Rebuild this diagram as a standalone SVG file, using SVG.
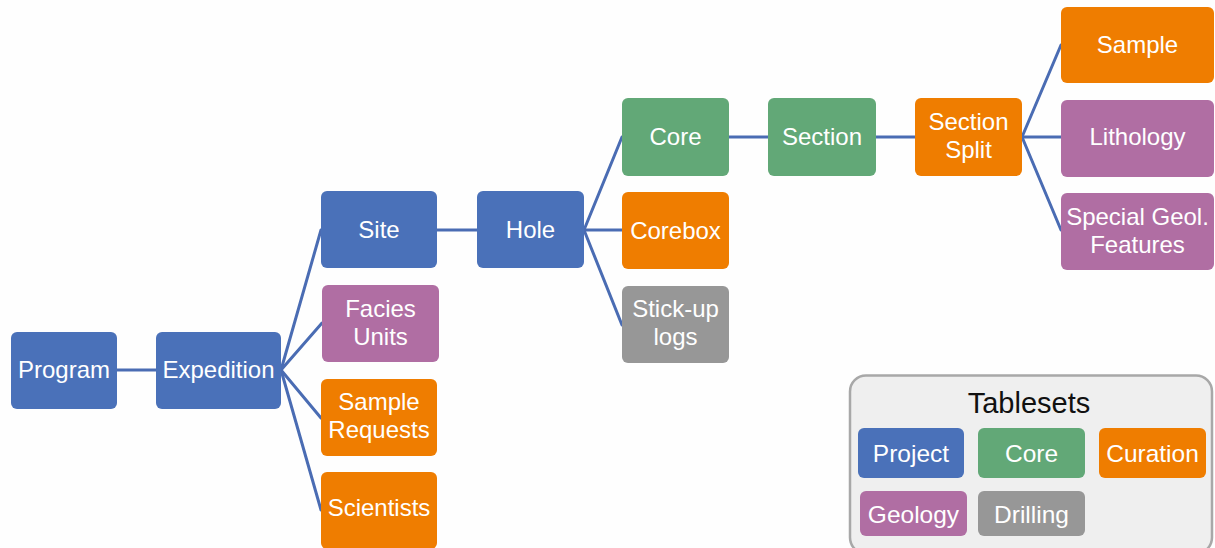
<svg xmlns="http://www.w3.org/2000/svg" width="1215" height="548" viewBox="0 0 1215 548">
<style>
.n{stroke:none}
.b{fill:#4a71b9}.g{fill:#62a877}.o{fill:#ef7d00}.p{fill:#b06ea3}.y{fill:#979797}
text{font-family:"Liberation Sans",Arial,sans-serif;font-size:24px;fill:#fff;text-anchor:middle}
.l text{font-size:24.5px}
.c line{stroke:#4a6cb3;stroke-width:3;stroke-linecap:round}
</style>
<rect width="1215" height="548" fill="#fefefe"/>
<g class="c" id="connectors">
<line x1="117" y1="370" x2="156" y2="370"/>
<line x1="281" y1="370" x2="321" y2="230"/>
<line x1="281" y1="370" x2="322" y2="323"/>
<line x1="281" y1="370" x2="321" y2="418"/>
<line x1="281" y1="370" x2="321" y2="510"/>
<line x1="437" y1="230" x2="477" y2="230"/>
<line x1="584" y1="230" x2="622" y2="137"/>
<line x1="584" y1="230" x2="622" y2="230"/>
<line x1="584" y1="230" x2="622" y2="325"/>
<line x1="729" y1="137" x2="768" y2="137"/>
<line x1="876" y1="137" x2="915" y2="137"/>
<line x1="1022" y1="137" x2="1061" y2="45"/>
<line x1="1022" y1="137" x2="1061" y2="137"/>
<line x1="1022" y1="137" x2="1061" y2="230"/>
</g>
<g id="program"><rect class="b" x="11" y="332" width="106" height="77" rx="6"/><text x="64" y="378">Program</text></g>
<g id="expedition"><rect class="b" x="156" y="332" width="125" height="77" rx="6"/><text x="218.5" y="378">Expedition</text></g>
<g id="site"><rect class="b" x="321" y="191" width="116" height="77" rx="6"/><text x="379" y="238">Site</text></g>
<g id="facies"><rect class="p" x="322" y="285" width="117" height="77" rx="6"/><text x="380.5" y="317">Facies</text><text x="380.5" y="345">Units</text></g>
<g id="samplerequests"><rect class="o" x="321" y="379" width="116" height="77" rx="6"/><text x="379" y="410">Sample</text><text x="379" y="438">Requests</text></g>
<g id="scientists"><rect class="o" x="321" y="472" width="116" height="77" rx="6"/><text x="379" y="516">Scientists</text></g>
<g id="hole"><rect class="b" x="477" y="191" width="107" height="77" rx="6"/><text x="530.5" y="238">Hole</text></g>
<g id="core"><rect class="g" x="622" y="98" width="107" height="78" rx="6"/><text x="675.5" y="145">Core</text></g>
<g id="corebox"><rect class="o" x="622" y="192" width="107" height="77" rx="6"/><text x="675.5" y="239">Corebox</text></g>
<g id="stickup"><rect class="y" x="622" y="286" width="107" height="77" rx="6"/><text x="675.5" y="317">Stick-up</text><text x="675.5" y="345">logs</text></g>
<g id="section"><rect class="g" x="768" y="98" width="108" height="78" rx="6"/><text x="822" y="145">Section</text></g>
<g id="sectionsplit"><rect class="o" x="915" y="98" width="107" height="78" rx="6"/><text x="968.5" y="130">Section</text><text x="968.5" y="158">Split</text></g>
<g id="sample"><rect class="o" x="1061" y="7" width="153" height="76" rx="6"/><text x="1137.5" y="53">Sample</text></g>
<g id="lithology"><rect class="p" x="1061" y="100" width="153" height="77" rx="6"/><text x="1137.5" y="145">Lithology</text></g>
<g id="specialgeol"><rect class="p" x="1061" y="193" width="153" height="77" rx="6"/><text x="1137.5" y="225">Special Geol.</text><text x="1137.5" y="253">Features</text></g>
<g id="tablesets" class="l">
<rect x="850" y="375.5" width="362" height="178" rx="16" fill="#efefef" stroke="#a8a8a8" stroke-width="2.5"/>
<text x="1029" y="413" style="fill:#111;font-size:29px">Tablesets</text>
<rect class="b" x="858" y="428" width="106" height="50" rx="6"/><text x="911" y="462">Project</text>
<rect class="g" x="978" y="428" width="107" height="50" rx="6"/><text x="1031.5" y="462">Core</text>
<rect class="o" x="1099" y="428" width="107" height="50" rx="6"/><text x="1152.5" y="462">Curation</text>
<rect class="p" x="860" y="491" width="107" height="45" rx="6"/><text x="913.5" y="523">Geology</text>
<rect class="y" x="978" y="491" width="107" height="45" rx="6"/><text x="1031.5" y="523">Drilling</text>
</g>
</svg>
